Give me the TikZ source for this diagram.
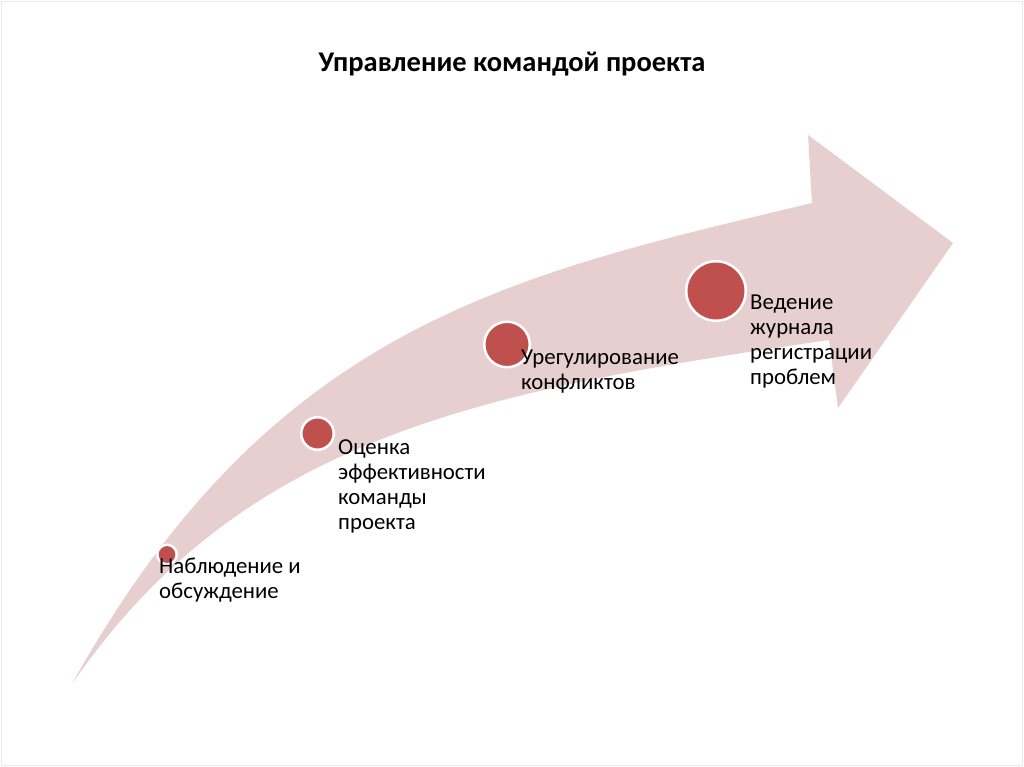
\documentclass[tikz,border=0pt]{standalone}
\usepackage{fontspec}
\setmainfont{Carlito}
\definecolor{arrowpink}{RGB}{231,207,208}
\definecolor{dotred}{RGB}{192,80,77}
\definecolor{framegray}{RGB}{235,235,235}
\tikzset{
  dot/.style={circle, fill=dotred, draw=white, line width=2.5pt, inner sep=0pt},
  lbl/.style={anchor=base west, inner sep=0pt, font=\fontsize{22.8}{25.3}\selectfont},
  ttl/.style={anchor=base, inner sep=0pt, font=\fontsize{28.5}{34}\selectfont\bfseries}
}
\newcommand{\lines}[1]{\begin{tabular}[t]{@{}l@{}}#1\end{tabular}}
\begin{document}
\begin{tikzpicture}[x=1pt,y=-1pt]
\useasboundingbox (0,0) rectangle (1024,767);
\fill[white] (0,0) rectangle (1024,767);
\draw[framegray, line width=1pt] (1.5,1.5) rectangle (1022.5,765.5);
% arrow
\fill[arrowpink] (72,684) .. controls (272,324) and (512,275) .. (812,203)
  -- (808,135) -- (953,243) -- (838,408) -- (829,340)
  .. controls (479,391) and (242,437) .. (72,684) -- cycle;
% title
\node[ttl] (title) at (512,72) {Управление командой проекта};
% circles
\node[dot, minimum size=19.5pt] (c1) at (167,554.5) {};
\node[dot, minimum size=32.5pt] (c2) at (317.5,433.5) {};
\node[dot, minimum size=45.5pt] (c3) at (507,344.5) {};
\node[dot, minimum size=59.5pt] (c4) at (716,291) {};
% labels
\node[lbl] (t1) at (159,573) {\lines{Наблюдение и\\обсуждение}};
\node[lbl] (t2) at (338,454) {\lines{Оценка\\эффективности\\команды\\проекта}};
\node[lbl] (t3) at (521,364) {\lines{Урегулирование\\конфликтов}};
\node[lbl] (t4) at (750,309) {\lines{Ведение\\журнала\\регистрации\\проблем}};
\end{tikzpicture}
\end{document}
